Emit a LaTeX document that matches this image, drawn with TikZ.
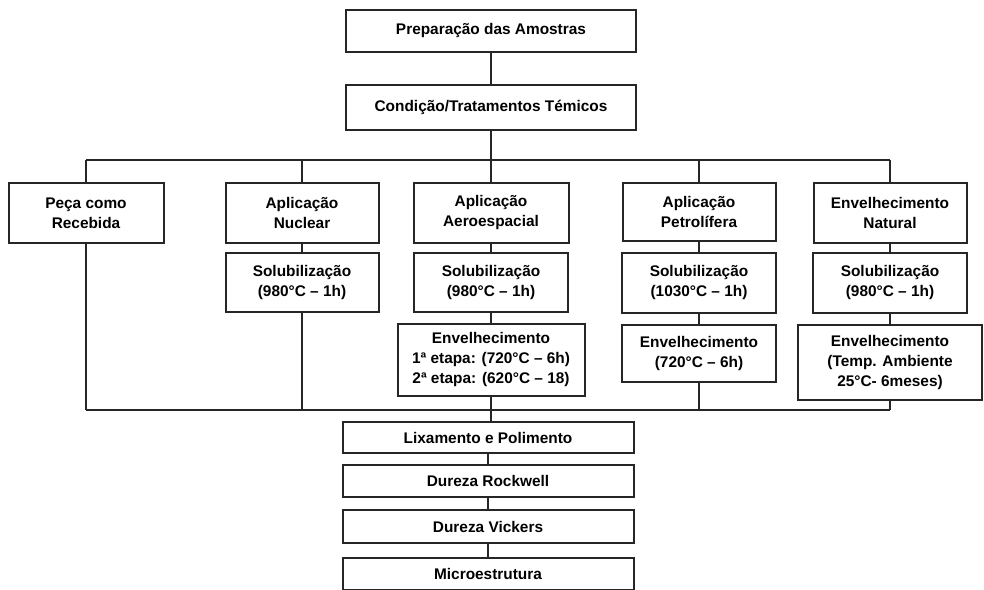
\documentclass[tikz,border=0pt]{standalone}
\usepackage{fontspec}
\setmainfont{Liberation Sans}
\usetikzlibrary{positioning}
\tikzset{
  stage/.style={rectangle, draw=black!85, line width=1pt, fill=white, align=center,
                inner sep=2pt, font=\fontsize{7.7}{10}\selectfont\bfseries},
  link/.style={draw=black!85, line width=1pt}
}
\begin{document}
\begin{tikzpicture}[x=0.5pt, y=-0.5pt]
\useasboundingbox (0,0) rectangle (984,589);
% ---- preparation ----
\node[stage, minimum width=145pt, minimum height=21pt] (prep) at (491,31) {Preparação das Amostras};
\node[stage, minimum width=145pt, minimum height=22.5pt] (cond) at (491,107.5) {Condição/Tratamentos Témicos};
% ---- conditions ----
\node[stage, minimum width=77.5pt, minimum height=30pt] (peca) at (86,213) {Peça como\\Recebida};
\node[stage, minimum width=76.5pt, minimum height=30pt] (nuc) at (302,213) {Aplicação\\Nuclear};
\node[stage, minimum width=77.5pt, minimum height=30pt] (aero) at (491,213) {Aplicação\\Aeroespacial};
\node[stage, minimum width=76.5pt, minimum height=29pt] (petro) at (699,212) {Aplicação\\Petrolífera};
\node[stage, minimum width=76.5pt, minimum height=30pt] (nat) at (890,213) {Envelhecimento\\Natural};
% ---- solubilization ----
\node[stage, minimum width=76.5pt, minimum height=29.5pt] (solN) at (302,282.5) {Solubilização\\(980°C – 1h)};
\node[stage, minimum width=77pt, minimum height=29.5pt] (solA) at (491,282.5) {Solubilização\\(980°C – 1h)};
\node[stage, minimum width=77pt, minimum height=30pt] (solP) at (699,283) {Solubilização\\(1030°C – 1h)};
\node[stage, minimum width=77pt, minimum height=30pt] (solE) at (890,283) {Solubilização\\(980°C – 1h)};
% ---- aging ----
\node[stage, minimum width=93.5pt, minimum height=36pt] (envA) at (491,360) {Envelhecimento\\1ª etapa: (720°C – 6h)\\2ª etapa: (620°C – 18)};
\node[stage, minimum width=77pt, minimum height=28.5pt] (envP) at (699,353.5) {Envelhecimento\\(720°C – 6h)};
\node[stage, minimum width=92pt, minimum height=37.5pt] (envE) at (890,362.5) {Envelhecimento\\(Temp. Ambiente\\25°C- 6meses)};
% ---- tests ----
\node[stage, minimum width=145.5pt, minimum height=15.5pt] (lix) at (488,437.5) {Lixamento e Polimento};
\node[stage, minimum width=145.5pt, minimum height=16pt] (rock) at (488,481) {Dureza Rockwell};
\node[stage, minimum width=145.5pt, minimum height=16.5pt] (vick) at (488,526.5) {Dureza Vickers};
\node[stage, minimum width=145.5pt, minimum height=16pt] (micro) at (488,574) {Microestrutura};
% ---- buses ----
\coordinate (busT) at (491,160);
\coordinate (busB) at (491,410);
\draw[link] (prep) -- (cond);
\draw[link] (cond.south) -- (busT);
\draw[link] (peca.north |- busT) -- (nat.north |- busT);
\foreach \n in {peca,nuc,aero,petro,nat}
  \draw[link] (\n.north |- busT) -- (\n.north);
\draw[link] (nuc) -- (solN);
\draw[link] (aero) -- (solA);
\draw[link] (petro) -- (solP);
\draw[link] (nat) -- (solE);
\draw[link] (solA) -- (envA);
\draw[link] (solP) -- (envP);
\draw[link] (solE) -- (envE);
\draw[link] (peca.south |- busB) -- (envE.south |- busB);
\draw[link] (peca.south) -- (peca.south |- busB);
\draw[link] (solN.south) -- (solN.south |- busB);
\draw[link] (envA.south) -- (busB);
\draw[link] (envP.south) -- (envP.south |- busB);
\draw[link] (envE.south) -- (envE.south |- busB);
\draw[link] (busB) -- (busB |- lix.north);
\draw[link] (lix) -- (rock);
\draw[link] (rock) -- (vick);
\draw[link] (vick) -- (micro);
\end{tikzpicture}
\end{document}
